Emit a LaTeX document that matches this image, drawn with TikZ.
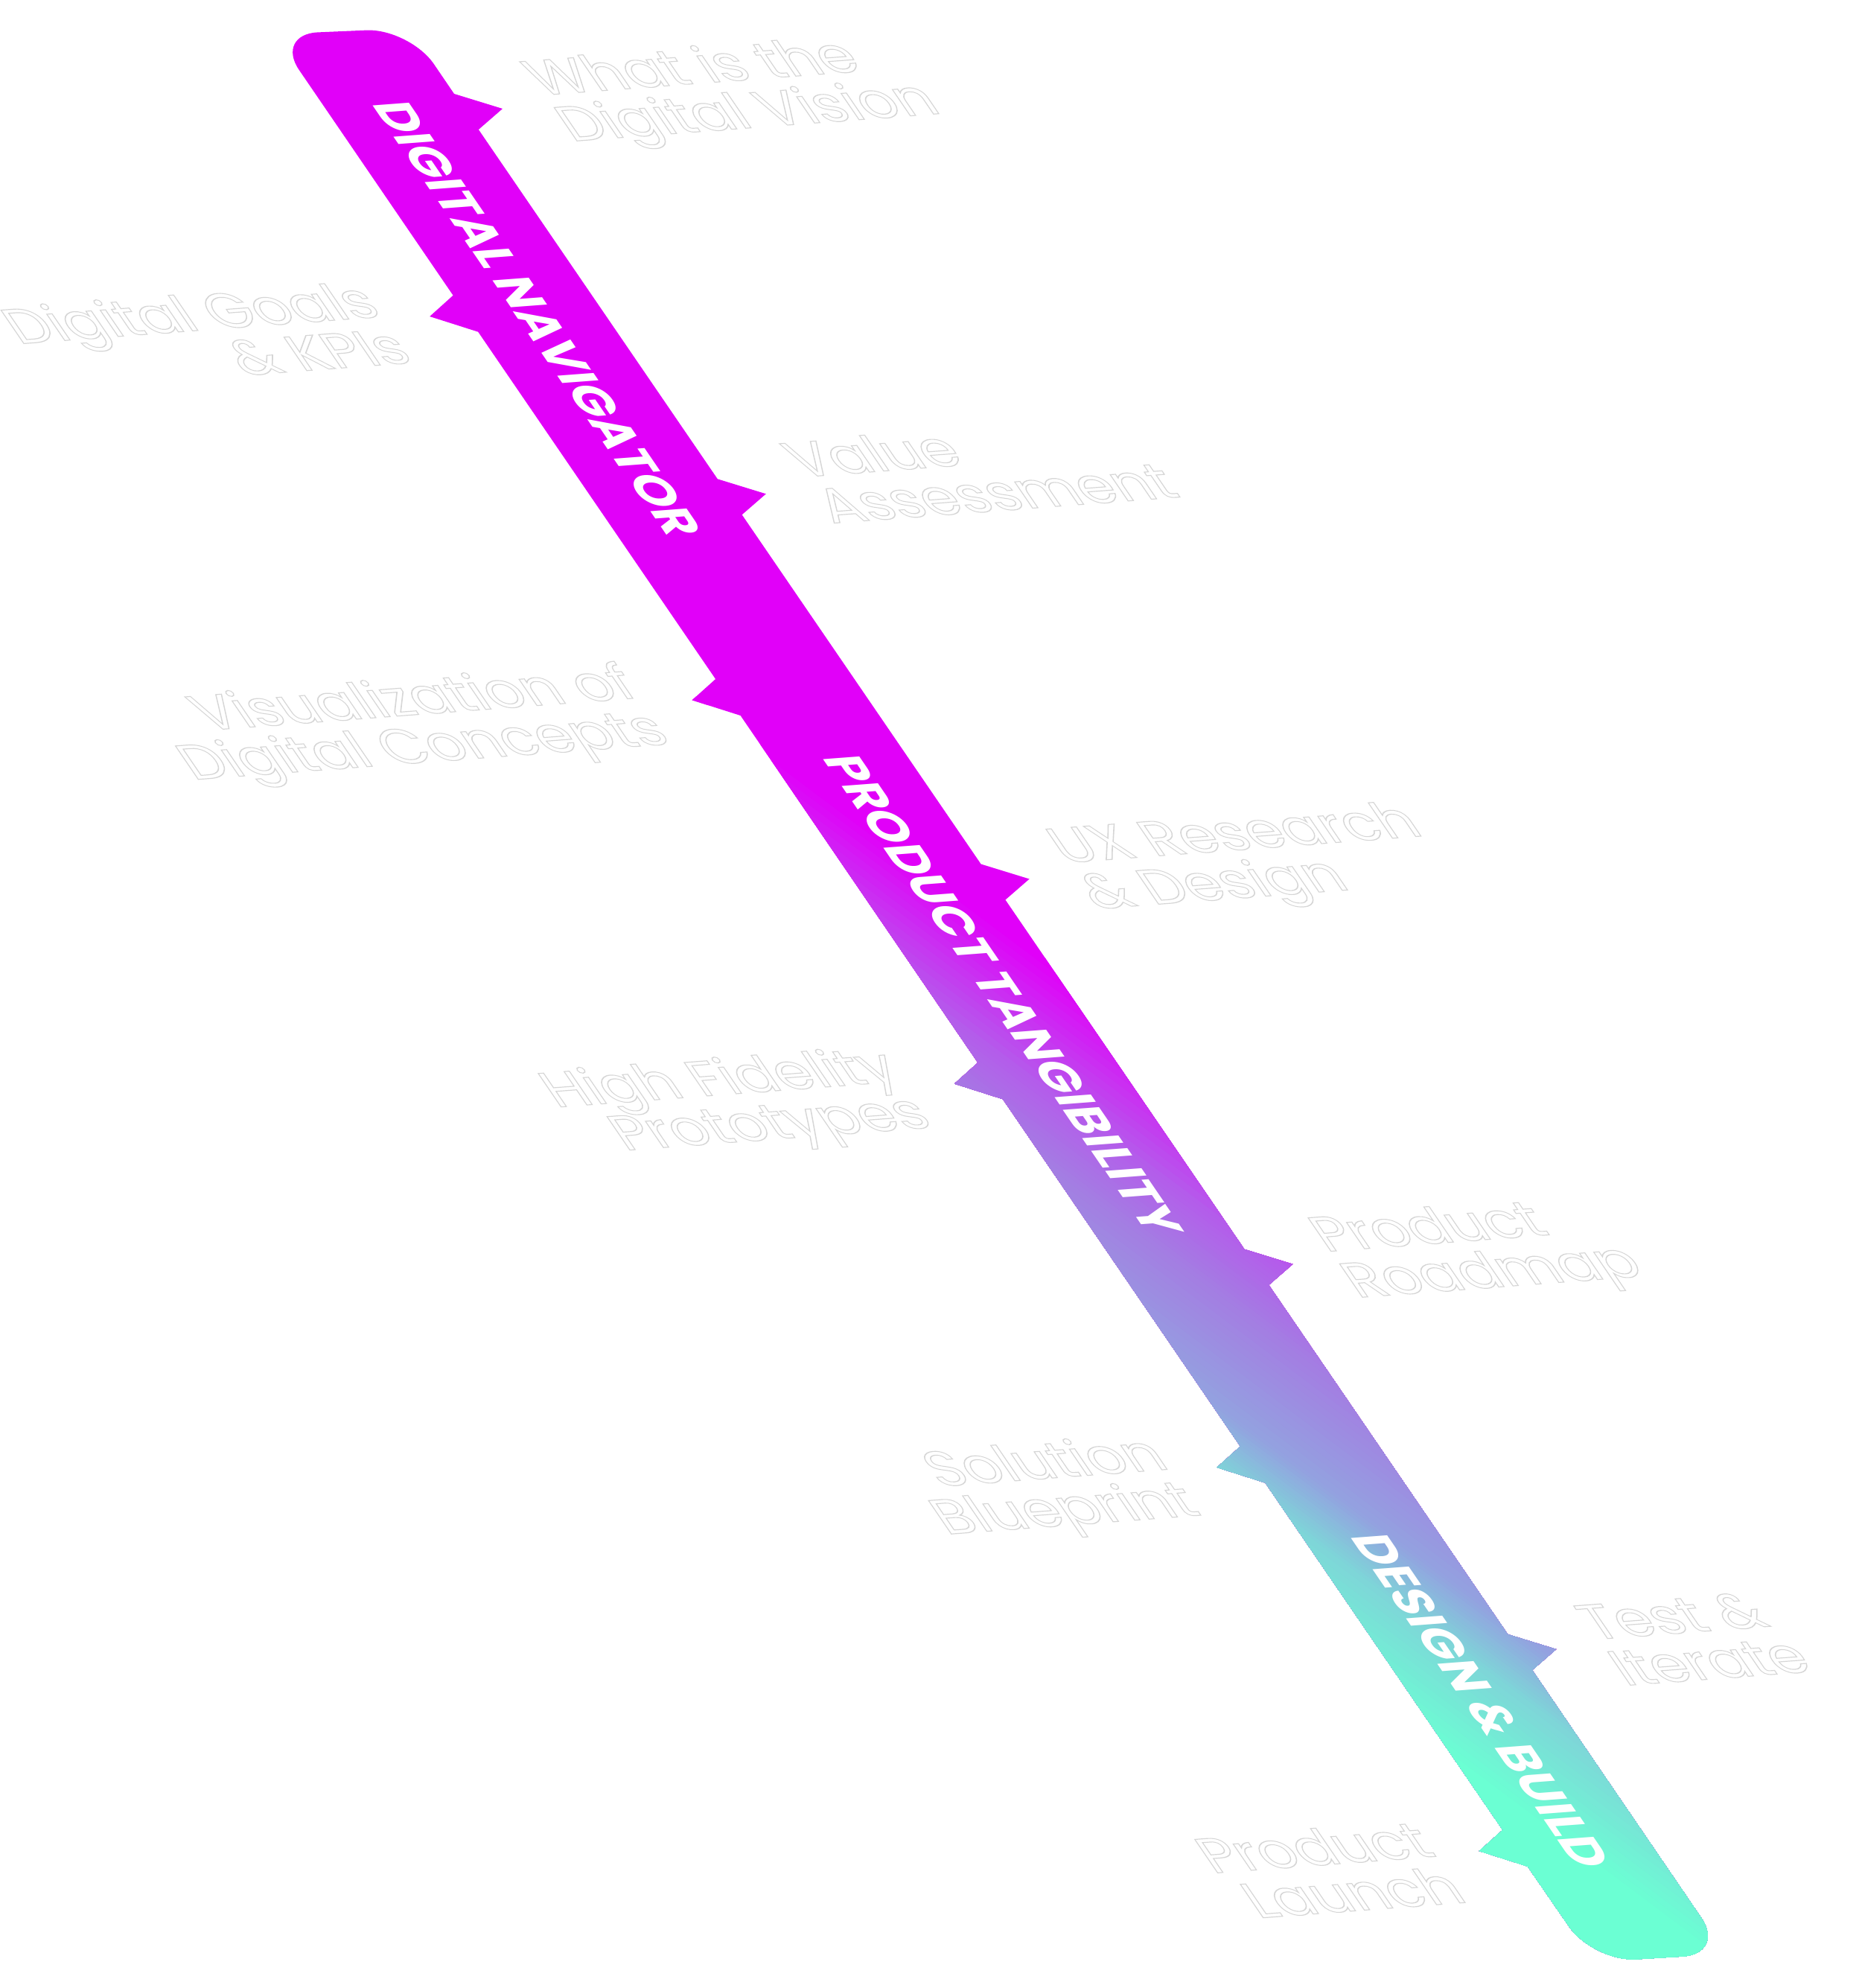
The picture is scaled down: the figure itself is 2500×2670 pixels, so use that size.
\documentclass[tikz,border=0pt]{standalone}
\usepackage{fontspec}
\newfontfamily\popfont{Poppins}
\definecolor{cMag}{HTML}{E100F9}
\definecolor{cPur}{HTML}{B45CEB}
\definecolor{cLav}{HTML}{A37FE2}
\definecolor{cPer}{HTML}{93A2E0}
\definecolor{cTeal}{HTML}{7ED6D8}
\definecolor{cMint}{HTML}{6BFFD3}
\newcommand\outl[1]{\special{pdf:literal direct 2 Tr 0.34 w 0.84 G}#1\special{pdf:literal direct 0 Tr}}
\tikzset{
  bandtxt/.style={inner sep=0pt, font=\popfont\bfseries\fontsize{17.4}{19}\selectfont, text=white},
  lbltxt/.style={inner sep=0pt, font=\popfont\fontsize{19.5}{22}\selectfont, text=white},
  bandcm/.style={cm={0.5645,-0.8254,0.997,0.075,(0,0)}},
  lblcm/.style={cm={0.997,0.075,-0.5645,0.8254,(0,0)}},
}
\newcommand\duallabel[5]{%
  \begin{scope}[shift={#3}, lblcm, transform shape]
    \node[lbltxt, anchor=#2] (#1a) at (0pt,0pt) {\outl{#4}};
    \node[lbltxt, anchor=#2] (#1b) at (0pt,-18.7pt) {\outl{#5}};
  \end{scope}}
\begin{document}
\begin{tikzpicture}[x=0.25pt,y=-0.25pt]
\useasboundingbox (0,0) rectangle (2500,2670);
\fill[white] (0,0) rectangle (2500,2670);
% band with gradient
\begin{scope}
\clip (426.9,43.4) -- (492.1,40.6) .. controls (523.9,39.2) and (564.7,59.6) .. (582.7,85.9)
 -- (610.0,126.0) -- (675.0,146.0) -- (642.8,174.0)
 -- (963.8,643.3) -- (1028.8,663.3) -- (996.6,691.3)
 -- (1317.6,1160.5) -- (1382.6,1180.5) -- (1350.4,1208.5)
 -- (1671.4,1677.8) -- (1736.4,1697.8) -- (1704.2,1725.8)
 -- (2025.2,2195.0) -- (2090.2,2215.0) -- (2058.0,2243.0)
 -- (2285.3,2576.1) .. controls (2303.3,2602.4) and (2291.9,2625.6) .. (2260.1,2627.6)
 -- (2197.9,2631.4) .. controls (2166.1,2633.4) and (2125.3,2613.4) .. (2107.3,2587.1)
 -- (2051.9,2506.7) -- (1986.9,2486.0) -- (2018.4,2457.7)
 -- (1699.5,1991.5) -- (1634.5,1970.8) -- (1666.0,1942.5)
 -- (1347.0,1476.2) -- (1282.0,1455.5) -- (1313.5,1427.2)
 -- (994.6,961.0) -- (929.6,940.3) -- (961.1,912.0)
 -- (642.2,445.7) -- (577.2,425.0) -- (608.6,396.7)
 -- (401.7,93.9) .. controls (383.7,67.6) and (395.1,44.8) .. (426.9,43.4) -- cycle;
\fill[cMag] (0,0) rectangle (2500,2670);
\foreach \ta/\tb/\ca/\cb in {187/324/cMag/cPur,324/409/cPur/cLav,409/528/cLav/cPer,528/596/cPer/cTeal,596/715/cTeal/cMint}{
  \foreach \i in {0,...,15}{
    \pgfmathsetmacro\tpos{\ta+(\tb-\ta)*\i/16}
    \pgfmathsetmacro\pmix{100-100*\i/16}
    \fill[fill={\ca!\pmix!\cb}] ({\tpos*(-0.6)-3500*0.8},{\tpos*0.8-3500*0.6}) -- ({\tpos*(-0.6)+3500*0.8},{\tpos*0.8+3500*0.6}) -- ({4000*(-0.6)+3500*0.8},{4000*0.8+3500*0.6}) -- ({4000*(-0.6)-3500*0.8},{4000*0.8-3500*0.6}) -- cycle;
  }
}
\fill[cMint] ({715*(-0.6)-3500*0.8},{715*0.8-3500*0.6}) -- ({715*(-0.6)+3500*0.8},{715*0.8+3500*0.6}) -- ({4000*(-0.6)+3500*0.8},{4000*0.8+3500*0.6}) -- ({4000*(-0.6)-3500*0.8},{4000*0.8-3500*0.6}) -- cycle;
\end{scope}
% band texts
\begin{scope}[shift={(722,428)}, bandcm, transform shape]
  \node[bandtxt] (dn) at (0pt,0pt) {DIGITAL NAVIGATOR};
\end{scope}
\begin{scope}[shift={(1348,1336)}, bandcm, transform shape]
  \node[bandtxt] (pt) at (0pt,0pt) {PRODUCT TANGIBILITY};
\end{scope}
\begin{scope}[shift={(1990,2284)}, bandcm, transform shape]
  \node[bandtxt] (db) at (0pt,0pt) {DESIGN \& BUILD};
\end{scope}
% outlined labels
\duallabel{l1}{base west}{(726,128)}{What is the}{Digital Vision}
\duallabel{l2}{base east}{(516,425)}{Digital Goals}{\& KPIs}
\duallabel{l3}{base west}{(1075,641)}{Value}{Assessment}
\duallabel{l4}{base east}{(862,937)}{Visualization of}{Digital Concepts}
\duallabel{l5}{base west}{(1429,1159)}{UX Research}{\& Design}
\duallabel{l6}{base east}{(1214,1452)}{High Fidelity}{Prototypes}
\duallabel{l7}{base west}{(1781,1681)}{Product}{Roadmap}
\duallabel{l8}{base east}{(1574,1973)}{Solution}{Blueprint}
\duallabel{l9}{base west}{(2141,2202)}{Test \&}{Iterate}
\duallabel{l10}{base east}{(1932,2493)}{Product}{Launch}
\end{tikzpicture}
\end{document}
